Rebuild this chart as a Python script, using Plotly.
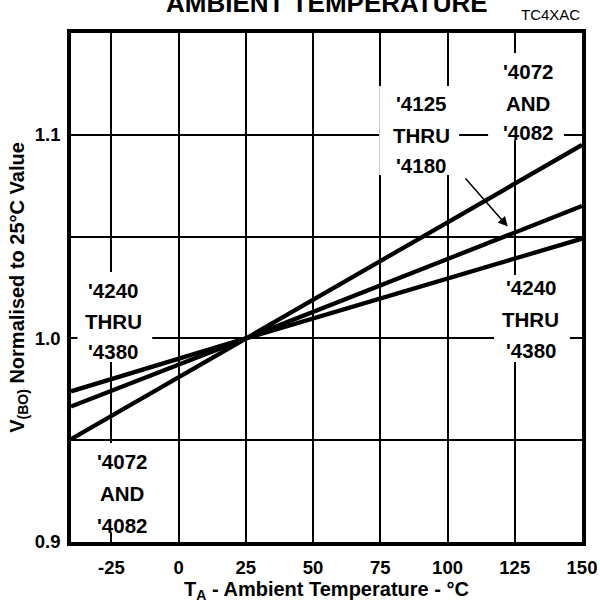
import plotly.graph_objects as go

# ---- data ----
temps = [-40, 25, 150]
v_4072_4082 = [0.9505, 1.0, 1.095]
v_4125_4180 = [0.9665, 1.0, 1.065]
v_4240_4380 = [0.974, 1.0, 1.049]

x_ticks = [-25, 0, 25, 50, 75, 100, 125, 150]
x_ticktext = ["-25", "0", "25", "50", "75", "100", "125", "150"]
y_ticks = [0.9, 0.95, 1.0, 1.05, 1.1]
y_ticktext = ["0.9", " ", "1.0", " ", "1.1"]

# label blocks: (x, [y per line], [lines])
labels = [
    (90.2, [1.1156, 1.0999, 1.0847], ["'4125", "THRU", "'4180"]),
    (129.9, [1.1313, 1.1156, 1.1009], ["'4072", "AND", "'4082"]),
    (-24.2, [1.0234, 1.0082, 0.9935], ["'4240", "THRU", "'4380"]),
    (-21.0, [0.9394, 0.9239, 0.9083], ["'4072", "AND", "'4082"]),
    (130.9, [1.0248, 1.0095, 0.9943], ["'4240", "THRU", "'4380"]),
]
# white background boxes behind the label blocks (x0, x1, y0, y1)
label_boxes = [
    (74.6, 104.3, 1.0803, 1.124),
    (115.1, 143.3, 1.0974, 1.1402),
    (-37.6, -9.8, 0.9884, 1.0326),
    (-32.8, -8.6, 0.9049, 0.9486),
    (117.3, 145.5, 0.9884, 1.0311),
]
# arrow pointing at the '4125 - '4180 curve: tail (x, y) -> head (x, y)
arrow_tail = (106.2, 1.0793)
arrow_head = (122.4, 1.0549)

FONT = "Liberation Sans, Arial, Helvetica, sans-serif"

fig = go.Figure()
for series in (v_4072_4082, v_4125_4180, v_4240_4380):
    fig.add_trace(go.Scatter(x=temps, y=series, mode="lines",
                             line=dict(color="black", width=4.3),
                             showlegend=False, hoverinfo="skip"))

for (x0, x1, y0, y1) in label_boxes:
    fig.add_shape(type="rect", xref="x", yref="y", x0=x0, x1=x1, y0=y0, y1=y1,
                  fillcolor="white", line=dict(width=0), layer="between")

for (x, ys, lines) in labels:
    for y, t in zip(ys, lines):
        fig.add_annotation(x=x, y=y, xref="x", yref="y", text=t, showarrow=False,
                           xanchor="center", yanchor="middle",
                           font=dict(family=FONT, size=20.5, color="black", weight="bold"))

fig.add_annotation(x=arrow_head[0], y=arrow_head[1], ax=arrow_tail[0], ay=arrow_tail[1],
                   xref="x", yref="y", axref="x", ayref="y", text="", showarrow=True,
                   arrowhead=2, arrowwidth=1.5, arrowsize=1.3, arrowcolor="black", standoff=0)

fig.add_annotation(x=0.5, y=1.059, xref="paper", yref="paper", text="AMBIENT TEMPERATURE",
                   showarrow=False, xanchor="center", yanchor="middle",
                   font=dict(family=FONT, size=26, color="black", weight="bold"))
fig.add_annotation(x=1.0, y=1.037, xref="paper", yref="paper", text="TC4XAC",
                   showarrow=False, xanchor="right", yanchor="middle",
                   font=dict(family=FONT, size=15, color="black"))

axis_common = dict(showgrid=True, gridcolor="black", gridwidth=1.5,
                   showline=True, linecolor="black", linewidth=3.5, mirror=True,
                   ticks="", zeroline=False, automargin=False,
                   tickfont=dict(family=FONT, size=18.5, color="black", weight="bold"))

fig.update_xaxes(range=[-40, 150], tickvals=x_ticks, ticktext=x_ticktext, ticklabelstandoff=6,
                 title=dict(text="T<sub>A</sub> - Ambient Temperature - °C", standoff=4,
                            font=dict(family=FONT, size=20, color="black", weight="bold")),
                 **axis_common)
fig.update_yaxes(range=[0.9, 1.15], tickvals=y_ticks, ticktext=y_ticktext, ticklabelstandoff=3,
                 title=dict(text="V<sub>(BO)</sub> Normalised to 25°C Value", standoff=6,
                            font=dict(family=FONT, size=20, color="black", weight="bold")),
                 **axis_common)

fig.update_layout(width=600, height=604, margin=dict(l=71, r=18, t=33, b=62),
                  plot_bgcolor="white", paper_bgcolor="white",
                  font=dict(family=FONT, color="black"))

fig.write_html("out.html", config={"displayModeBar": False},
               post_script="document.body.style.margin='0';document.body.style.padding='0';")
